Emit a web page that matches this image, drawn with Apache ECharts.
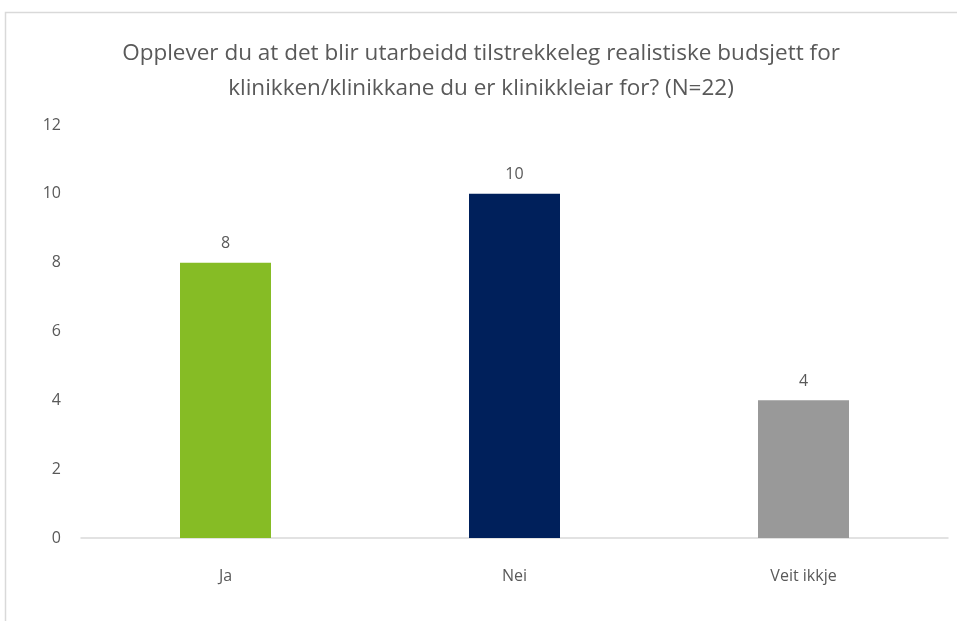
<!DOCTYPE html>
<html>
<head>
<meta charset="utf-8">
<script src="https://cdn.jsdelivr.net/npm/echarts@6/dist/echarts.min.js"></script>
<style>
  html, body { margin: 0; padding: 0; background: #fff; }
  #chart { width: 957px; height: 621px; }
</style>
</head>
<body>
<div id="chart"></div>
<script>
const titleText = 'Opplever du at det blir utarbeidd tilstrekkeleg realistiske budsjett for\nklinikken/klinikkane du er klinikkleiar for? (N=22)'
const categories = ['Ja', 'Nei', 'Veit ikkje']
const values = [8, 10, 4]
const barColors = ['#86bc25', '#00205b', '#999999']

const chart = echarts.init(document.getElementById('chart'))
const textColor = '#595959'
const font = '"Open Sans", "Liberation Sans", sans-serif'

chart.setOption({
  animation: false,
  title: {
    text: titleText,
    left: 476,
    top: 31,
    textAlign: 'center',
    textStyle: {
      color: textColor,
      fontSize: 22.5,
      fontWeight: 'normal',
      fontFamily: font,
      lineHeight: 35
    }
  },
  // frame around the chart area
  graphic: [{
    type: 'rect',
    shape: { x: 5.5, y: 12.5, width: 1000, height: 1000 },
    style: { fill: 'none', stroke: '#d9d9d9', lineWidth: 1.5 },
    silent: true
  }],
  grid: {
    left: 81,
    right: 9,
    top: 125,
    bottom: 83,
    containLabel: false
  },
  xAxis: {
    type: 'category',
    data: categories,
    axisTick: { show: false },
    axisLine: { lineStyle: { color: '#d9d9d9', width: 1.5 } },
    axisLabel: {
      color: textColor,
      fontSize: 16,
      fontFamily: font,
      margin: 30
    }
  },
  yAxis: {
    type: 'value',
    min: 0,
    max: 12,
    interval: 2,
    axisLine: { show: false },
    axisTick: { show: false },
    splitLine: { show: false },
    axisLabel: {
      color: textColor,
      fontSize: 16,
      fontFamily: font,
      margin: 20
    }
  },
  series: [{
    type: 'bar',
    data: values.map((v, i) => ({ value: v, itemStyle: { color: barColors[i] } })),
    barWidth: 91,
    label: {
      show: true,
      position: 'top',
      distance: 11,
      color: textColor,
      fontSize: 16,
      fontFamily: font
    }
  }]
})
</script>
</body>
</html>
